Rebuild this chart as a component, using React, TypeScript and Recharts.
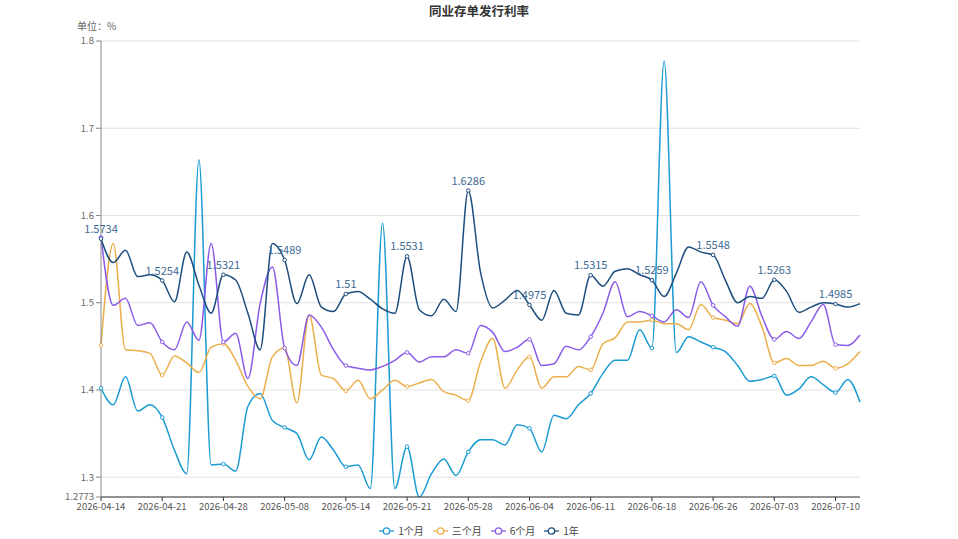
import React from 'react';
import { LineChart, Line, XAxis, YAxis, CartesianGrid } from 'recharts';

const dates = [
  '2026-04-14','2026-04-15','2026-04-16','2026-04-17','2026-04-20','2026-04-21','2026-04-22','2026-04-23','2026-04-24','2026-04-27',
  '2026-04-28','2026-04-29','2026-04-30','2026-05-06','2026-05-07','2026-05-08','2026-05-09','2026-05-11','2026-05-12','2026-05-13',
  '2026-05-14','2026-05-15','2026-05-18','2026-05-19','2026-05-20','2026-05-21','2026-05-22','2026-05-25','2026-05-26','2026-05-27',
  '2026-05-28','2026-05-29','2026-06-01','2026-06-02','2026-06-03','2026-06-04','2026-06-05','2026-06-08','2026-06-09','2026-06-10',
  '2026-06-11','2026-06-12','2026-06-15','2026-06-16','2026-06-17','2026-06-18','2026-06-22','2026-06-23','2026-06-24','2026-06-25',
  '2026-06-26','2026-06-29','2026-06-30','2026-07-01','2026-07-02','2026-07-03','2026-07-06','2026-07-07','2026-07-08','2026-07-09',
  '2026-07-10','2026-07-13','2026-07-14',
];

const m1 = [
  1.402,1.383,1.415,1.376,1.383,1.3685,1.331,1.304,1.664,1.314,
  1.315,1.307,1.381,1.396,1.365,1.357,1.350,1.320,1.346,1.331,
  1.312,1.314,1.287,1.591,1.287,1.335,1.2773,1.304,1.321,1.302,
  1.329,1.343,1.343,1.337,1.360,1.356,1.329,1.371,1.367,1.383,
  1.396,1.419,1.434,1.434,1.469,1.448,1.777,1.443,1.461,1.455,
  1.449,1.444,1.428,1.410,1.412,1.416,1.394,1.401,1.415,1.406,
  1.397,1.412,1.386,
];

const m3 = [
  1.451,1.568,1.446,1.445,1.442,1.417,1.439,1.431,1.420,1.449,
  1.453,1.434,1.404,1.390,1.438,1.448,1.385,1.486,1.417,1.413,
  1.399,1.411,1.390,1.400,1.411,1.404,1.408,1.412,1.398,1.394,
  1.388,1.432,1.459,1.402,1.423,1.438,1.402,1.415,1.415,1.427,
  1.423,1.453,1.460,1.478,1.478,1.480,1.476,1.476,1.469,1.498,
  1.483,1.480,1.476,1.499,1.472,1.431,1.436,1.428,1.428,1.433,
  1.425,1.430,1.444,
];

const m6 = [
  1.575,1.497,1.505,1.474,1.477,1.455,1.446,1.478,1.457,1.568,
  1.455,1.465,1.413,1.499,1.541,1.448,1.428,1.486,1.472,1.446,
  1.428,1.425,1.423,1.427,1.434,1.443,1.432,1.438,1.438,1.446,
  1.442,1.474,1.466,1.444,1.449,1.458,1.428,1.430,1.450,1.446,
  1.461,1.488,1.524,1.484,1.490,1.485,1.478,1.492,1.483,1.524,
  1.497,1.484,1.473,1.519,1.484,1.458,1.467,1.459,1.478,1.498,
  1.452,1.451,1.463,
];

const y1 = [
  1.5734,1.546,1.560,1.530,1.532,1.5254,1.501,1.558,1.520,1.488,
  1.5321,1.526,1.488,1.446,1.568,1.5489,1.499,1.532,1.495,1.490,
  1.51,1.513,1.504,1.493,1.488,1.5531,1.492,1.485,1.504,1.490,
  1.6286,1.535,1.494,1.503,1.514,1.4975,1.480,1.514,1.488,1.486,
  1.5315,1.519,1.536,1.539,1.532,1.5259,1.507,1.534,1.564,1.558,
  1.5548,1.526,1.500,1.507,1.505,1.5263,1.513,1.489,1.495,1.500,
  1.4985,1.495,1.499,
];

const yTicks = [1.2773, 1.3, 1.4, 1.5, 1.6, 1.7, 1.8];

const seriesNames = ['1个月', '三个月', '6个月', '1年'];
const seriesKeys = ['m1', 'm3', 'm6', 'y1'];
const colors = ['#1B9BD1', '#EBAF4C', '#8B5CE8', '#1D4E7E'];

const data = dates.map((d, i) => ({ date: d, m1: m1[i], m3: m3[i], m6: m6[i], y1: y1[i] }));

const FONT = '"Microsoft YaHei", "Noto Sans CJK SC", sans-serif';

const makeDot = (color: string) => (props: any) => {
  const { cx, cy, index } = props;
  if (index % 5 !== 0) return <g key={`d-${color}-${index}`} />;
  return <circle key={`d-${color}-${index}`} cx={cx} cy={cy} r={1.8} fill="#fff" stroke={color} strokeWidth={1} />;
};

const renderLabel = (props: any) => {
  const { x, y, value, index } = props;
  if (index % 5 !== 0) return <g key={`l-${index}`} />;
  return (
    <text key={`l-${index}`} x={x} y={y - 6} textAnchor="middle" fontSize={11} fill="#3E6A94" fontFamily={FONT}>
      {value}
    </text>
  );
};

export default function App() {
  return (
    <div style={{ position: 'absolute', left: 0, top: 0, width: 958, height: 539, background: '#fff', fontFamily: FONT }}>
      <div style={{ position: 'absolute', left: 0, width: 958, top: 1, textAlign: 'center', fontSize: 12.5, fontWeight: 'bold', color: '#333' }}>
        同业存单发行利率
      </div>
      <div style={{ position: 'absolute', left: 77, top: 18, fontSize: 10, color: '#666' }}>单位：%</div>
      <LineChart width={958} height={539} data={data} margin={{ top: 41, right: 98, bottom: 12, left: 51 }}>
        <CartesianGrid vertical={false} stroke="#e3e3e3" />
        <XAxis
          dataKey="date"
          interval={4}
          height={30}
          stroke="#333"
          tickSize={4}
          tick={{ fontSize: 9.5, fill: '#555', fontFamily: FONT }}
        />
        <YAxis
          type="number"
          domain={[1.2773, 1.8]}
          ticks={yTicks}
          allowDataOverflow
          width={50}
          stroke="#888"
          tickSize={5}
          tick={{ fontSize: 9.5, fill: '#666', fontFamily: FONT }}
        />
        {seriesKeys.map((k, si) => (
          <Line
            key={k}
            type="monotone"
            dataKey={k}
            name={seriesNames[si]}
            stroke={colors[si]}
            strokeWidth={1.5}
            dot={makeDot(colors[si])}
            activeDot={false}
            isAnimationActive={false}
            label={k === 'y1' ? renderLabel : undefined}
          />
        ))}
      </LineChart>
      <div style={{ position: 'absolute', top: 523, left: 0, width: 958, display: 'flex', justifyContent: 'center', gap: 9, fontSize: 10, color: '#444' }}>
        {seriesNames.map((n, i) => (
          <div key={n} style={{ display: 'flex', alignItems: 'center', gap: 4 }}>
            <svg width={15} height={10}>
              <line x1={0} y1={5} x2={15} y2={5} stroke={colors[i]} strokeWidth={1.3} />
              <circle cx={7.5} cy={5} r={3.2} fill="#fff" stroke={colors[i]} strokeWidth={1.3} />
            </svg>
            <span>{n}</span>
          </div>
        ))}
      </div>
    </div>
  );
}
